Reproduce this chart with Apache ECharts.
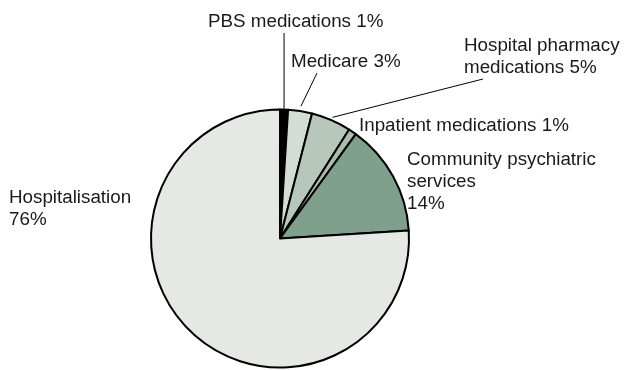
<!DOCTYPE html>
<html>
<head>
<meta charset="utf-8">
<script src="https://cdn.jsdelivr.net/npm/echarts@6/dist/echarts.min.js"></script>
<style>
  html, body { margin: 0; padding: 0; background: #ffffff; }
  #chart { width: 626px; height: 370px; }
</style>
</head>
<body>
<div id="chart"></div>
<script>
// Share of spending by service type (%)
var categories = [
  'PBS medications',
  'Medicare',
  'Hospital pharmacy\nmedications',
  'Inpatient medications',
  'Community psychiatric\nservices',
  'Hospitalisation'
];
var shares = [1, 3, 5, 1, 14, 76];
// text placed between name and percentage
var separators = [' ', ' ', ' ', ' ', '\n', '\n'];

var sliceColors = ['#000000', '#d3ddd6', '#b8c7bb', '#a9bcae', '#7fa08c', '#e6e8e3'];
var showGuide = [true, true, true, false, false, false];

// label anchor (top-left) for each slice
var labelPos = [
  [208, 11],
  [291, 51],
  [464, 35],
  [359, 115],
  [407, 149],
  [9, 187]
];
// where each guide line meets its label box (x offset from label left)
var guideOffsetX = [null, 26, 19];
var guideGap = [0, 5, 3];

var LINE_H = 22;

var chart = echarts.init(document.getElementById('chart'), null, { renderer: 'canvas' });

var data = categories.map(function (name, i) {
  return {
    name: name,
    value: shares[i],
    itemStyle: { color: sliceColors[i] },
    label: { formatter: name + separators[i] + shares[i] + '%' },
    labelLine: { show: showGuide[i] }
  };
});

chart.setOption({
  animation: false,
  series: [{
    type: 'pie',
    center: [280, 238.5],
    radius: [0, 129],
    startAngle: 90,
    clockwise: true,
    avoidLabelOverlap: false,
    silent: true,
    itemStyle: { borderColor: '#000000', borderWidth: 2 },
    label: {
      show: true,
      position: 'outside',
      color: '#1a1a1a',
      fontFamily: '"Liberation Sans", Arial, sans-serif',
      fontSize: 18.8,
      lineHeight: LINE_H,
      align: 'left'
    },
    labelLine: {
      show: true,
      length: 10,
      length2: 10,
      lineStyle: { color: '#000000', width: 1 }
    },
    labelLayout: function (params) {
      var i = params.dataIndex;
      var p = labelPos[i];
      var out = { x: p[0], y: p[1], align: 'left', verticalAlign: 'top' };
      if (showGuide[i] && params.labelLinePoints) {
        var a = params.labelLinePoints[0];
        var b = params.labelLinePoints[1];
        var dx = b[0] - a[0], dy = b[1] - a[1];
        var len = Math.sqrt(dx * dx + dy * dy) || 1;
        var start = [a[0] + dx / len * guideGap[i], a[1] + dy / len * guideGap[i]];
        var lines = data[i].label.formatter.split('\n').length;
        var endY = p[1] + lines * LINE_H;
        var endX = guideOffsetX[i] == null ? start[0] : p[0] + guideOffsetX[i];
        out.labelLinePoints = [start, start, [endX, endY]];
      }
      return out;
    },
    data: data
  }]
});
</script>
</body>
</html>
